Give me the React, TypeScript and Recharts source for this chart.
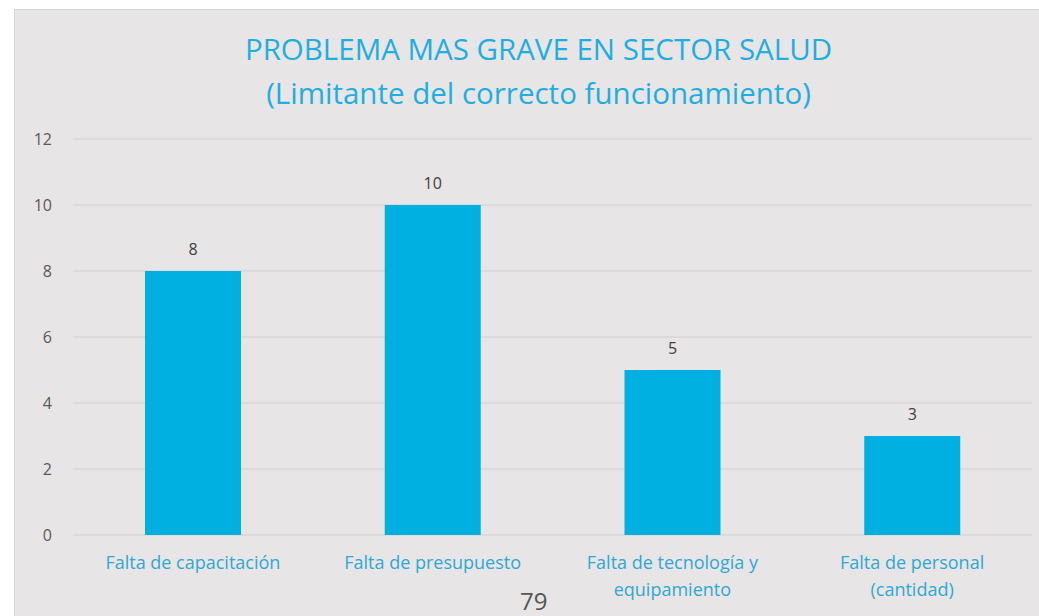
import { BarChart, Bar, XAxis, YAxis, CartesianGrid, LabelList } from 'recharts';

// category labels, already broken into the lines shown under each bar
const categoryLines = [
  ['Falta de capacitación'],
  ['Falta de presupuesto'],
  ['Falta de tecnología y', 'equipamiento'],
  ['Falta de personal', '(cantidad)'],
];
const counts = [8, 10, 5, 3];
const yTicks = [0, 2, 4, 6, 8, 10, 12];

const data = categoryLines.map((lines, i) => ({ name: lines.join(' '), value: counts[i] }));

const FONT = '"Open Sans", "Noto Sans", sans-serif';
const BLUE = '#00b0e0';

function CategoryTick({ x, y, index }: any) {
  const lines = categoryLines[index] || [];
  return (
    <text x={x} y={y} textAnchor="middle" fill="#2fa8d3" fontSize={18} fontFamily={FONT}>
      {lines.map((line, i) => (
        <tspan key={i} x={x} dy={i === 0 ? '0.71em' : 27}>
          {line}
        </tspan>
      ))}
    </text>
  );
}

export default function App() {
  return (
    <div style={{ position: 'absolute', left: 0, top: 0, width: 1039, height: 616, background: '#fff', overflow: 'hidden' }}>
      {/* chart panel, runs off the right and bottom edge like the scan */}
      <div
        style={{
          position: 'absolute',
          left: 14,
          top: 9,
          width: 1040,
          height: 620,
          background: '#e7e5e5',
          border: '1px solid #d6d4d4',
        }}
      />
      <div
        style={{
          position: 'absolute',
          left: 0,
          top: 27,
          width: 1077,
          textAlign: 'center',
          fontFamily: FONT,
          fontSize: 29.5,
          lineHeight: '44px',
          color: '#1eaee0',
        }}
      >
        PROBLEMA MAS GRAVE EN SECTOR SALUD
        <br />
        (Limitante del correcto funcionamiento)
      </div>
      <div style={{ position: 'absolute', left: 0, top: 0 }}>
        <BarChart
          width={1039}
          height={616}
          data={data}
          margin={{ top: 139, right: 7, bottom: 51, left: 13 }}
          barCategoryGap="30%"
        >
          <CartesianGrid vertical={false} stroke="#d2d0d0" strokeWidth={1.2} />
          <YAxis
            width={60}
            domain={[0, 12]}
            ticks={yTicks}
            axisLine={false}
            tickLine={false}
            tickSize={0}
            tickMargin={21}
            tick={{ fill: '#595959', fontSize: 16, fontFamily: FONT }}
          />
          <XAxis
            dataKey="name"
            height={30}
            axisLine={false}
            tickLine={false}
            tickSize={0}
            tickMargin={21}
            interval={0}
            tick={<CategoryTick />}
          />
          <Bar dataKey="value" fill={BLUE} barSize={96} isAnimationActive={false}>
            <LabelList dataKey="value" position="top" offset={16} fill="#404040" fontSize={16} fontFamily={FONT} />
          </Bar>
        </BarChart>
      </div>
      <div
        style={{
          position: 'absolute',
          left: 520,
          top: 586,
          fontFamily: FONT,
          fontSize: 24,
          lineHeight: '30px',
          color: '#555',
        }}
      >
        79
      </div>
    </div>
  );
}
